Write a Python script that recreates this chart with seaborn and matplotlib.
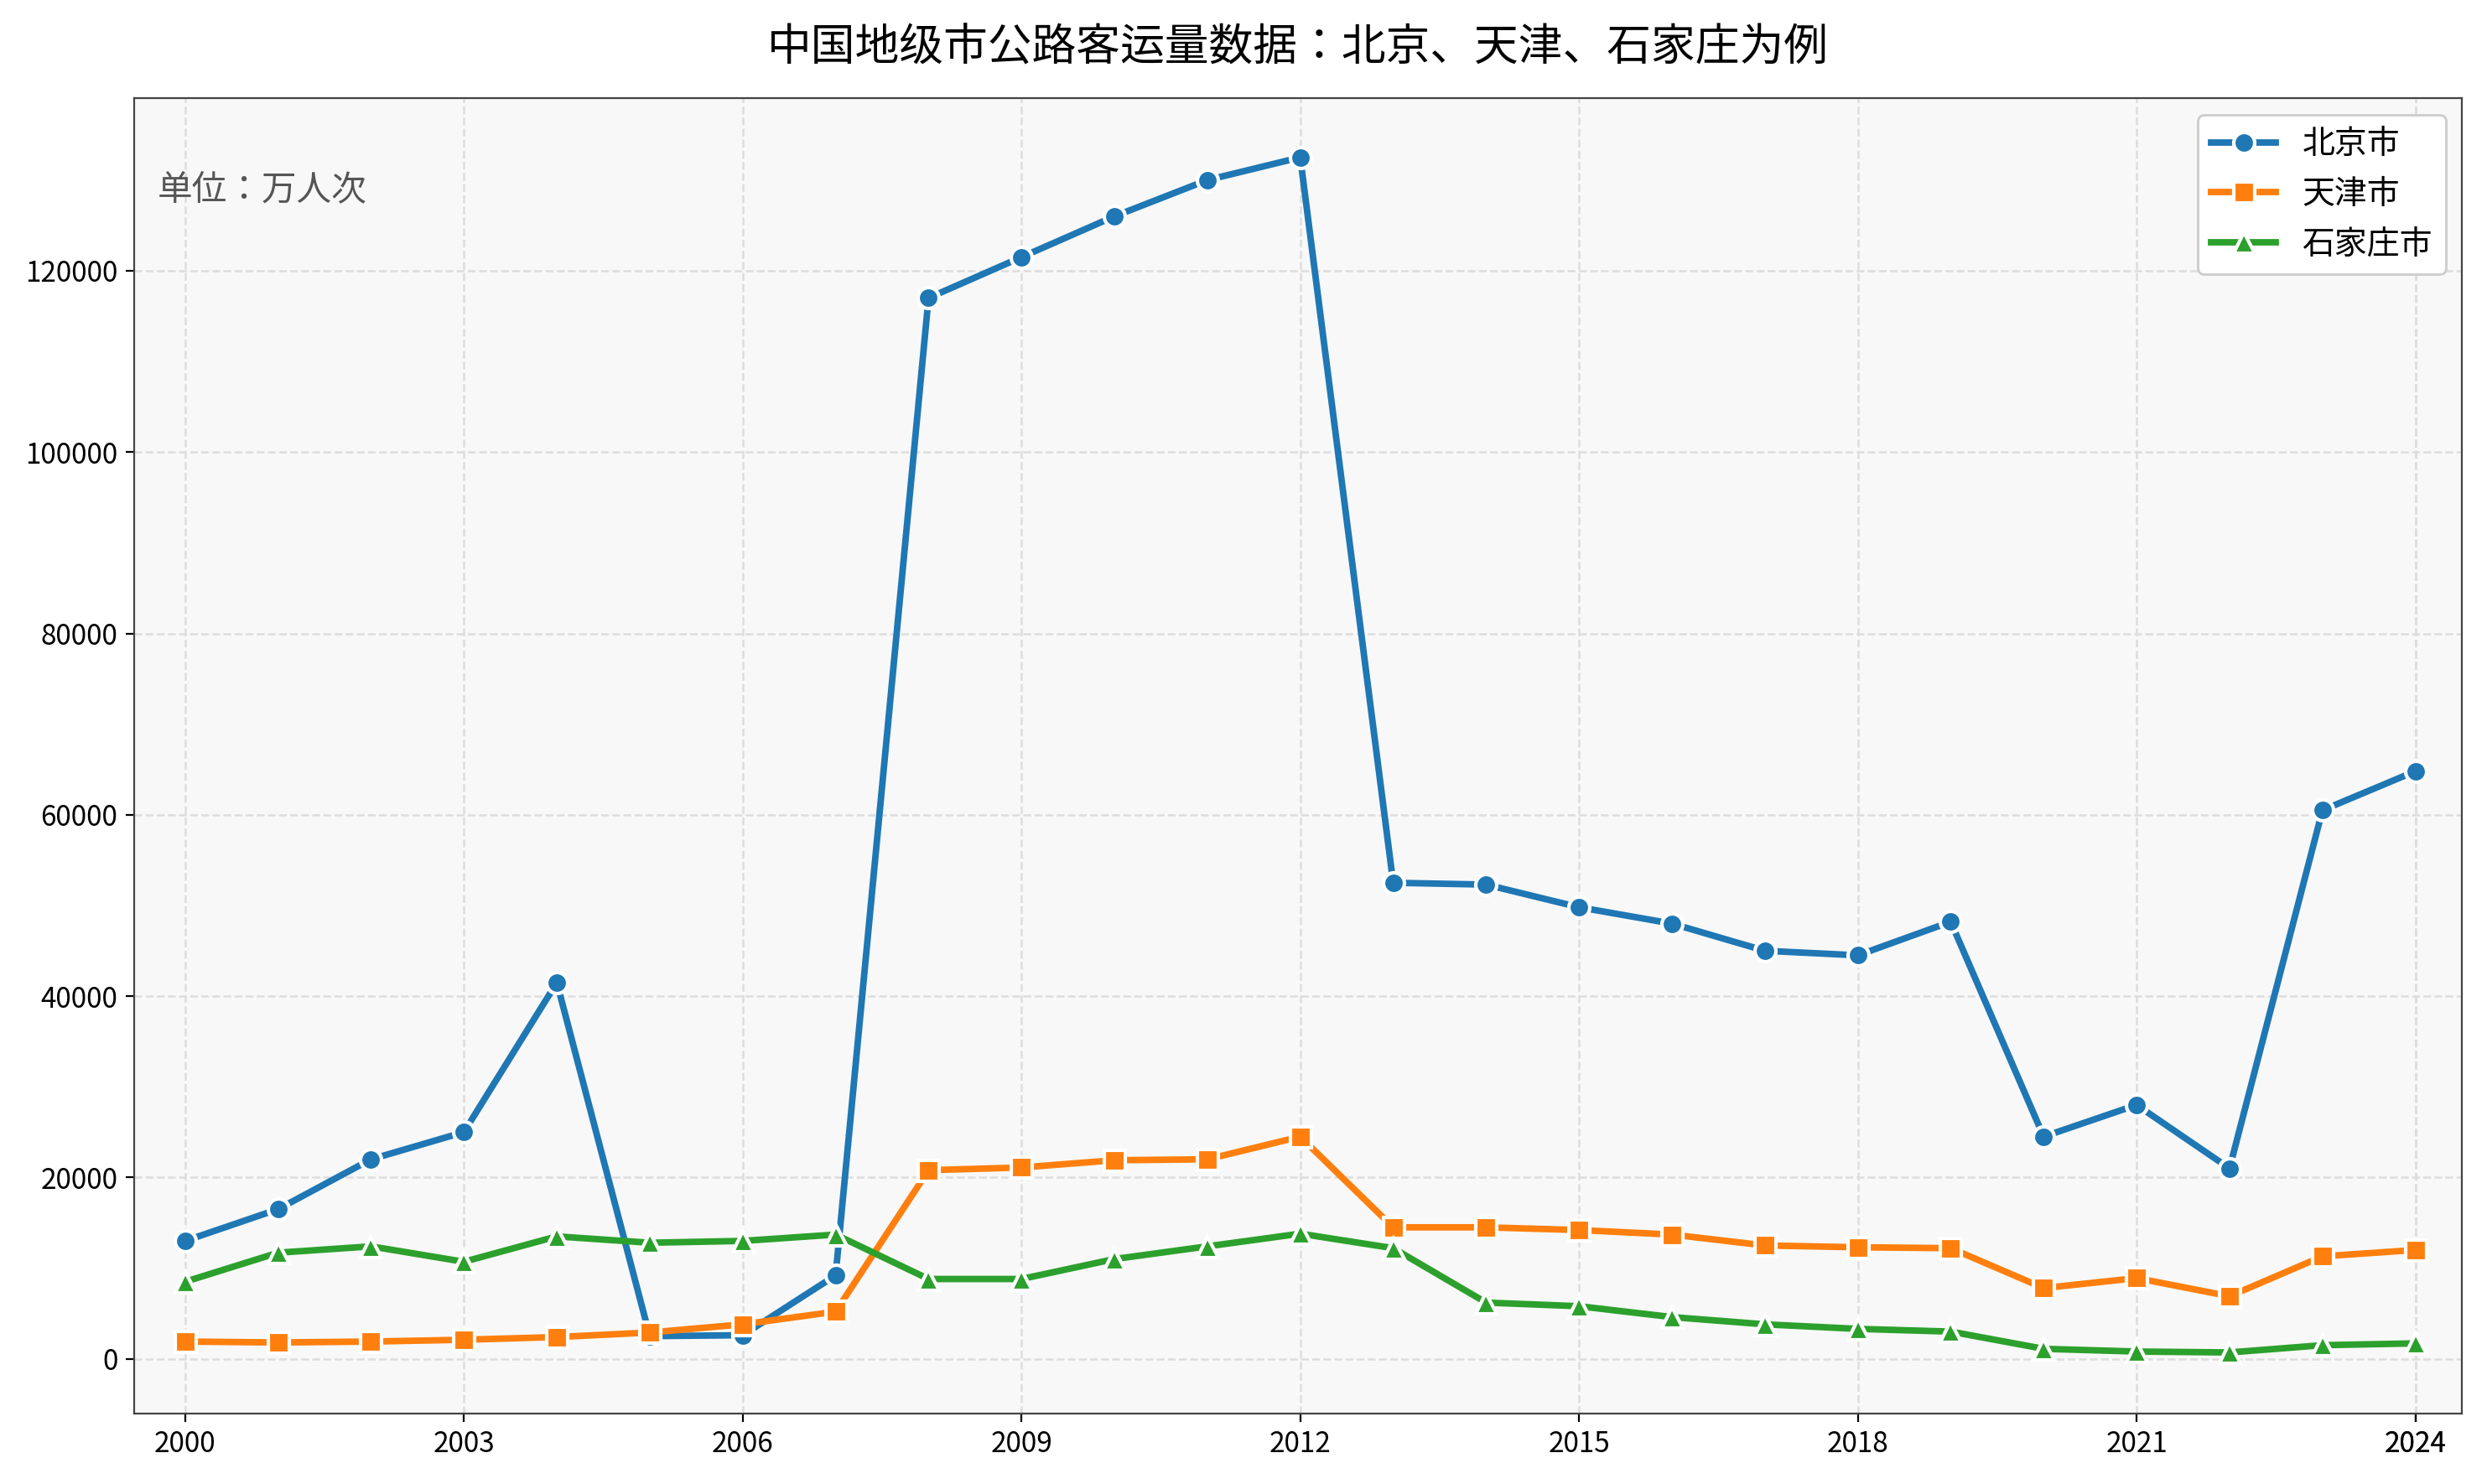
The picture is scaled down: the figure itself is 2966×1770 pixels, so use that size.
import matplotlib
matplotlib.use("Agg")
import matplotlib.pyplot as plt
from matplotlib import font_manager as fm
import seaborn as sns
import pandas as pd

cjk = None
for f in fm.findSystemFonts():
    if "NotoSansCJK" in f.replace(" ", "") and ("Regular" in f or "SC" in f):
        try:
            fm.fontManager.addfont(f)
            cjk = fm.FontProperties(fname=f).get_name()
            break
        except Exception:
            pass
names = ([cjk] if cjk else []) + ["Noto Sans CJK SC", "Noto Sans CJK JP", "DejaVu Sans"]
plt.rcParams["font.family"] = "sans-serif"
plt.rcParams["font.sans-serif"] = names
plt.rcParams["axes.unicode_minus"] = False

years = list(range(2000, 2025))
beijing = [13000, 16500, 22000, 25000, 41500, 2500, 2600, 9200, 117000, 121500, 126000, 130000, 132500,
           52500, 52300, 49800, 48000, 45000, 44500, 48200, 24500, 28000, 21000, 60500, 64800]
tianjin = [1900, 1800, 1900, 2100, 2400, 2900, 3800, 5200, 20800, 21100, 21900, 22000, 24500,
           14500, 14500, 14200, 13700, 12500, 12300, 12200, 7800, 8900, 6900, 11300, 12000]
shijiazhuang = [8500, 11700, 12400, 10700, 13500, 12800, 13000, 13700, 8800, 8800, 11000, 12400, 13800,
                12200, 6200, 5800, 4600, 3800, 3300, 3000, 1100, 800, 700, 1500, 1700]
cities = ["北京市", "天津市", "石家庄市"]
colors = ["#1f77b4", "#ff7f0e", "#2ca02c"]
markers = ["o", "s", "^"]

df = pd.DataFrame({"年份": years * 3,
                   "客运量": beijing + tianjin + shijiazhuang,
                   "城市": [c for c in cities for _ in years]})

fig, ax = plt.subplots(figsize=(14.83, 8.85), dpi=200)
ax.set_facecolor("#f8f8f8")
for city, col, mk in zip(cities, colors, markers):
    sub = df[df["城市"] == city]
    sns.lineplot(data=sub, x="年份", y="客运量", ax=ax, color=col, marker=mk, linewidth=2.8,
                 markersize=9, markeredgecolor="white", markeredgewidth=1.5, label=city)

ax.set_xticks(list(range(2000, 2025, 3)) + [2024])
ax.set_xlim(1999.45, 2024.5)
ax.set_ylim(-6000, 139000)
ax.grid(True, linestyle="--", color="#dddddd", linewidth=0.9)
ax.set_xlabel("")
ax.set_ylabel("")
ax.tick_params(labelsize=12)
for s in ax.spines.values():
    s.set_color("#444444")
ax.set_title("中国地级市公路客运量数据：北京、天津、石家庄为例", fontsize=19, pad=16)
ax.text(0.01, 0.93, "单位：万人次", transform=ax.transAxes, fontsize=15, color="#555555",
        va="center", ha="left")
leg = ax.legend(loc="upper right", fontsize=14, framealpha=1)
plt.tight_layout()
fig.savefig("out.png", dpi=200)
